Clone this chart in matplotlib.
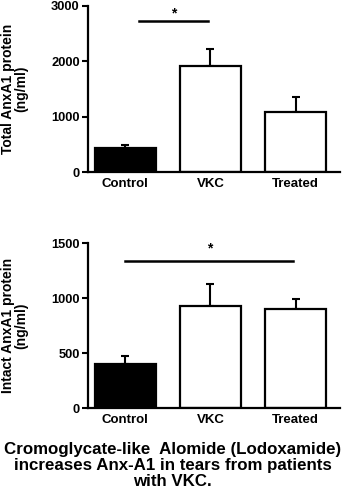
import numpy as np
import matplotlib.pyplot as plt

groups = ['Control', 'VKC', 'Treated']
total_mean = [440, 1910, 1080]
total_err = [55, 310, 270]
intact_mean = [400, 930, 900]
intact_err = [70, 195, 95]
bar_colors = ['black', 'white', 'white']

plt.rcParams['font.family'] = ['Liberation Sans', 'DejaVu Sans']
plt.rcParams['font.weight'] = 'bold'

fig = plt.figure(figsize=(3.45, 4.93), dpi=100)
ax1 = fig.add_axes([0.255, 0.651, 0.73, 0.337])
ax2 = fig.add_axes([0.255, 0.172, 0.73, 0.335])


def panel(ax, means, errs, ymax, step, ylabel, sig, star_y, line_y):
    x = np.arange(len(groups))
    ax.bar(x, means, width=0.72, color=bar_colors, edgecolor='black', linewidth=1.6, zorder=2)
    ax.errorbar(x, means, yerr=[np.zeros(len(errs)), errs], fmt='none', ecolor='black',
                elinewidth=1.5, capsize=3, capthick=1.5, zorder=1)
    ax.set_xlim(-0.44, 2.52)
    ax.set_ylim(0, ymax)
    ax.set_yticks(np.arange(0, ymax + 1, step))
    ax.set_xticks(x)
    ax.set_xticklabels(groups, fontsize=9.5, fontweight='bold')
    ax.tick_params(axis='x', length=0, pad=4)
    ax.tick_params(axis='y', length=4, width=1.5, labelsize=9.3, pad=2)
    for lbl in ax.get_yticklabels():
        lbl.set_fontweight('bold')
    for s in ['top', 'right']:
        ax.spines[s].set_visible(False)
    for s in ['left', 'bottom']:
        ax.spines[s].set_linewidth(1.6)
    ax.set_ylabel(ylabel, fontsize=10, fontweight='bold', linespacing=0.95)
    ax.yaxis.set_label_coords(-0.237, 0.5)
    ax.plot(sig, [line_y, line_y], color='black', lw=1.8, clip_on=False)
    ax.text(np.mean(sig), star_y, '*', ha='center', va='center', fontsize=10, fontweight='bold')


panel(ax1, total_mean, total_err, 3000, 1000, 'Total AnxA1 protein\n(ng/ml)',
      [0.16, 0.97], 2860, 2730)
panel(ax2, intact_mean, intact_err, 1500, 500, 'Intact AnxA1 protein\n(ng/ml)',
      [0.0, 1.97], 1450, 1340)

fig.text(0.5, 0.0142, 'Cromoglycate-like  Alomide (Lodoxamide)\nincreases Anx-A1 in tears from patients\nwith VKC.',
         ha='center', va='baseline', fontsize=12.2, fontweight='bold', linespacing=1.1)

fig.savefig('out.png', dpi=100)
